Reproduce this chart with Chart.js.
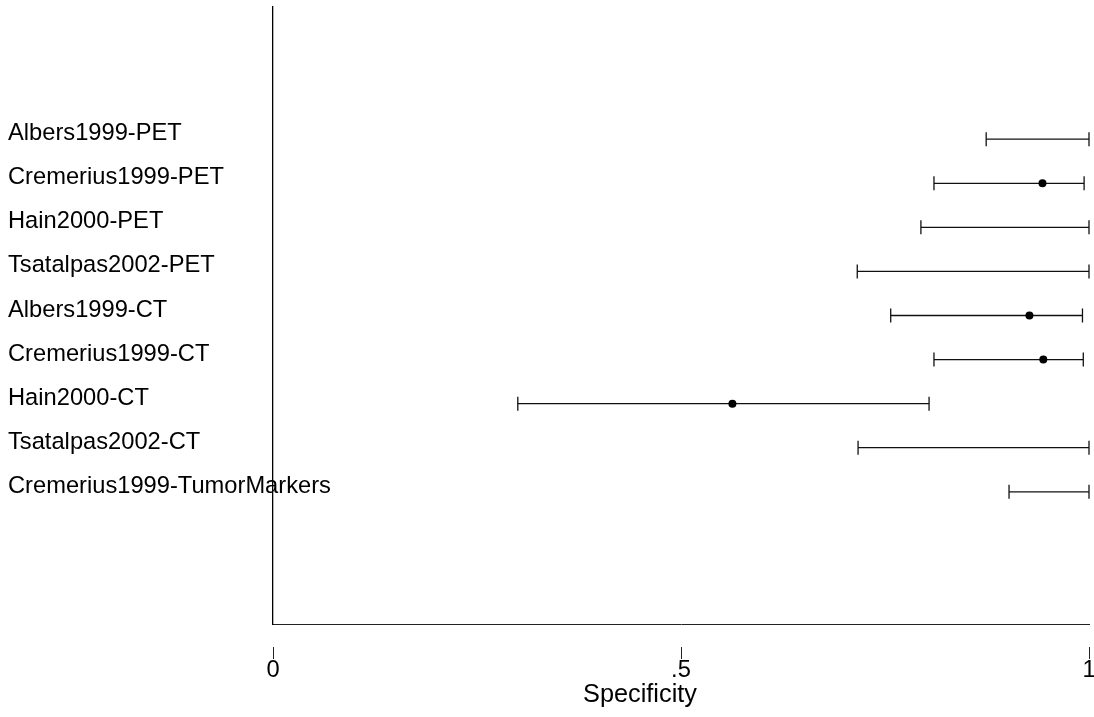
<!DOCTYPE html>
<html>
<head>
<meta charset="utf-8">
<title>Specificity by study</title>
<script src="https://cdn.jsdelivr.net/npm/chart.js@4/dist/chart.umd.min.js"></script>
<style>
  html, body { margin: 0; padding: 0; background: #ffffff; }
  #wrap { width: 1094px; height: 717px; }
</style>
</head>
<body>
<div id="wrap"><canvas id="chart" width="1094" height="717"></canvas></div>
<script>
// Studies, top to bottom
const studies = [
  'Albers1999-PET',
  'Cremerius1999-PET',
  'Hain2000-PET',
  'Tsatalpas2002-PET',
  'Albers1999-CT',
  'Cremerius1999-CT',
  'Hain2000-CT',
  'Tsatalpas2002-CT',
  'Cremerius1999-TumorMarkers'
];

// Point estimates of specificity (null = no estimate marker shown)
const estimate = [null, 0.943, null, null, 0.927, 0.944, 0.563, null, null];

// Confidence interval bounds
const lower = [0.874, 0.810, 0.794, 0.716, 0.757, 0.810, 0.300, 0.717, 0.902];
const upper = [1.000, 0.994, 1.000, 1.000, 0.992, 0.993, 0.804, 1.000, 1.000];

// X axis ticks and their labels
const xTicks = [0, 0.5, 1];
const xTickLabels = ['0', '.5', '1'];

const axisTitle = 'Specificity';
const FONT = '"Liberation Sans", Arial, Helvetica, sans-serif';

// One line per study with vertical caps at both ends
const ciDatasets = studies.map((name, i) => ({
  type: 'scatter',
  label: name,
  data: [{ x: lower[i], y: i + 1 }, { x: upper[i], y: i + 1 }],
  showLine: true,
  borderColor: '#111111',
  borderWidth: 1.3,
  pointStyle: 'line',
  rotation: 90,
  pointRadius: 7,
  pointBorderColor: '#111111',
  pointBorderWidth: 1.3,
  clip: false,
  order: 2
}));

const estDataset = {
  type: 'scatter',
  label: 'Estimate',
  data: studies
    .map((name, i) => ({ x: estimate[i], y: i + 1 }))
    .filter(p => p.x !== null),
  showLine: false,
  pointStyle: 'circle',
  pointRadius: 4,
  pointBackgroundColor: '#000000',
  pointBorderColor: '#000000',
  pointBorderWidth: 0,
  clip: false,
  order: 1
};

// Study names on the left, aligned to each row of the y scale;
// x axis title under the tick labels
const rowLabels = {
  id: 'rowLabels',
  beforeDraw(chart) {
    const ys = chart.scales.y;
    const ctx = chart.ctx;
    ctx.save();
    ctx.font = '23.7px ' + FONT;
    ctx.fillStyle = '#000000';
    ctx.textAlign = 'left';
    ctx.textBaseline = 'alphabetic';
    studies.forEach((s, i) => {
      ctx.fillText(s, 8, ys.getPixelForValue(i + 1) + 1);
    });
    ctx.restore();
  },
  afterDraw(chart) {
    const xs = chart.scales.x;
    const ctx = chart.ctx;
    ctx.save();
    ctx.font = '25.3px ' + FONT;
    ctx.fillStyle = '#000000';
    ctx.textAlign = 'center';
    ctx.textBaseline = 'alphabetic';
    ctx.fillText(axisTitle, 640, xs.bottom - 15);
    ctx.restore();
  }
};

new Chart(document.getElementById('chart'), {
  data: { datasets: [...ciDatasets, estDataset] },
  options: {
    responsive: false,
    animation: false,
    devicePixelRatio: 1,
    events: [],
    layout: { autoPadding: false, padding: { left: 273, right: 5, top: 7, bottom: 0 } },
    plugins: {
      legend: { display: false },
      tooltip: { enabled: false },
      title: { display: false }
    },
    scales: {
      x: {
        type: 'linear',
        position: 'bottom',
        min: 0,
        max: 1,
        afterFit: s => { s.height = 93; s.paddingLeft = 0; s.paddingRight = 0; },
        afterBuildTicks: s => { s.ticks = xTicks.map(v => ({ value: v })); },
        border: { display: true, color: '#222222', width: 1 },
        grid: {
          display: true,
          drawOnChartArea: false,
          drawTicks: true,
          tickLength: 35,
          tickColor: '#222222',
          tickWidth: 1,
          tickBorderDash: [0, 22, 13, 200]
        },
        ticks: {
          autoSkip: false,
          maxRotation: 0,
          minRotation: 0,
          padding: 0,
          color: '#000000',
          font: { family: FONT, size: 23.7, lineHeight: 1 },
          callback: (v) => {
            const k = xTicks.indexOf(v);
            return k >= 0 ? xTickLabels[k] : '';
          }
        }
      },
      y: {
        type: 'linear',
        position: 'left',
        reverse: true,
        min: -2,
        max: 12,
        afterFit: s => { s.width = 0; },
        border: { display: true, color: '#000000', width: 1.3 },
        grid: { display: false, drawTicks: false },
        ticks: { display: false }
      }
    }
  },
  plugins: [rowLabels]
});
</script>
</body>
</html>
